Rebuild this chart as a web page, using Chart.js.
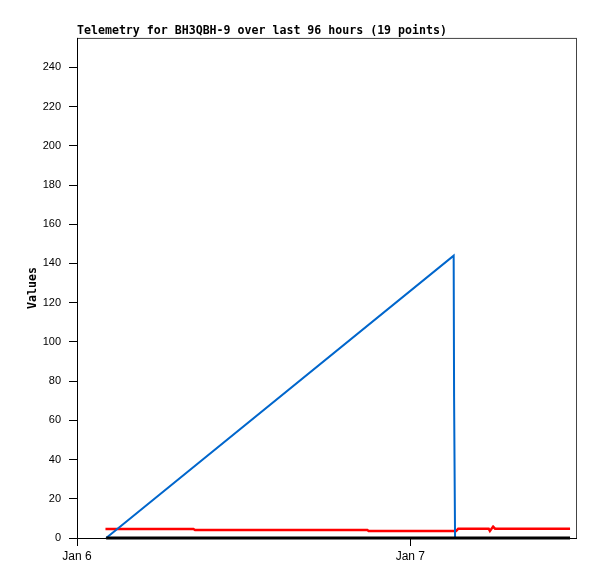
<!DOCTYPE html>
<html>
<head>
<meta charset="utf-8">
<title>Telemetry for BH3QBH-9</title>
<script src="https://cdn.jsdelivr.net/npm/chart.js@4.4.0/dist/chart.umd.min.js"></script>
<style>
    html, body { margin: 0; padding: 0; background: #fff; }
    #wrap { width: 597px; height: 579px; }
</style>
</head>
<body>
<div id="wrap"><canvas id="telemetryChart"></canvas></div>
<script>
// x values are hours since Jan 6 00:00
const dayTicks = [0, 24];
const dayLabels = ['Jan 6', 'Jan 7'];
const valueTicks = [0, 20, 40, 60, 80, 100, 120, 140, 160, 180, 200, 220, 240];

const blueHours = [2.1, 27.12, 27.15, 27.22];
const blueValues = [0, 144, 72, 0];

const redHours = [2.05, 8.38, 8.5, 20.9, 21.0, 27.3, 27.45, 29.64, 29.73, 29.96, 30.1, 35.5];
const redValues = [4.6, 4.6, 4.1, 4.1, 3.6, 3.6, 4.75, 4.75, 3.6, 5.8, 4.75, 4.75];

const blackHours = [2.1, 35.5];
const blackValues = [0, 0];

function toPoints(xs, ys) {
    return xs.map(function (x, i) { return { x: x, y: ys[i] }; });
}

const tickFont = { family: "'Liberation Sans', Arial, sans-serif", size: 11 };
const dayFont = { family: "'Liberation Sans', Arial, sans-serif", size: 12 };
const monoBold = { family: "'DejaVu Sans Mono', monospace", size: 11.6, weight: 'bold' };

// thin frame round the plot area
const framePlugin = {
    id: 'frame',
    beforeDatasetsDraw: function (chart) {
        const a = chart.chartArea;
        const c = chart.ctx;
        c.save();
        c.strokeStyle = '#444';
        c.lineWidth = 1;
        c.strokeRect(a.left + 0.5, a.top + 0.5, a.right - a.left - 1, a.bottom - a.top);
        c.strokeStyle = '#000';
        c.beginPath();
        c.moveTo(a.left + 0.5, a.top);
        c.lineTo(a.left + 0.5, a.bottom + 0.5);
        c.lineTo(a.right, a.bottom + 0.5);
        c.stroke();
        c.restore();
    }
};

const ctx = document.getElementById('telemetryChart');

new Chart(ctx, {
    type: 'line',
    data: {
        datasets: [
            {
                label: 'black',
                data: toPoints(blackHours, blackValues),
                borderColor: '#000',
                borderWidth: 3,
                clip: 4
            },
            {
                label: 'blue',
                data: toPoints(blueHours, blueValues),
                borderColor: '#0066cc',
                borderWidth: 2,
                clip: 4
            },
            {
                label: 'red',
                data: toPoints(redHours, redValues),
                borderColor: '#ff0000',
                borderWidth: 2.5,
                clip: 4
            }
        ]
    },
    options: {
        responsive: true,
        maintainAspectRatio: false,
        animation: false,
        layout: { padding: { left: 0, right: 20, top: 0, bottom: 0 } },
        elements: {
            point: { radius: 0 },
            line: { tension: 0, fill: false }
        },
        plugins: {
            legend: { display: false },
            tooltip: { enabled: false },
            title: {
                display: true,
                text: 'Telemetry for BH3QBH-9 over last 96 hours (19 points)',
                align: 'start',
                fullSize: false,
                color: '#000',
                font: monoBold,
                padding: { top: 24, bottom: 0 }
            }
        },
        scales: {
            x: {
                type: 'linear',
                min: 0,
                max: 36,
                afterBuildTicks: function (s) {
                    s.ticks = dayTicks.map(function (v) { return { value: v }; });
                },
                afterFit: function (s) { s.height = 41; },
                ticks: {
                    callback: function (v) { return dayLabels[dayTicks.indexOf(v)]; },
                    color: '#000',
                    font: dayFont,
                    padding: 3,
                    maxRotation: 0,
                    autoSkip: false
                },
                grid: { drawOnChartArea: false, drawTicks: true, tickLength: 8, color: '#000' },
                border: { display: false }
            },
            y: {
                min: 0,
                max: 255,
                afterBuildTicks: function (s) {
                    s.ticks = valueTicks.map(function (v) { return { value: v }; });
                },
                afterFit: function (s) { s.width = 77; },
                ticks: {
                    color: '#000',
                    font: tickFont,
                    padding: 8,
                    autoSkip: false
                },
                grid: { drawOnChartArea: false, drawTicks: true, tickLength: 8, color: '#000' },
                border: { display: false },
                title: {
                    display: true,
                    text: 'Values',
                    color: '#000',
                    font: monoBold,
                    padding: { top: 26, bottom: 0 }
                }
            }
        }
    },
    plugins: [framePlugin]
});
</script>
</body>
</html>
